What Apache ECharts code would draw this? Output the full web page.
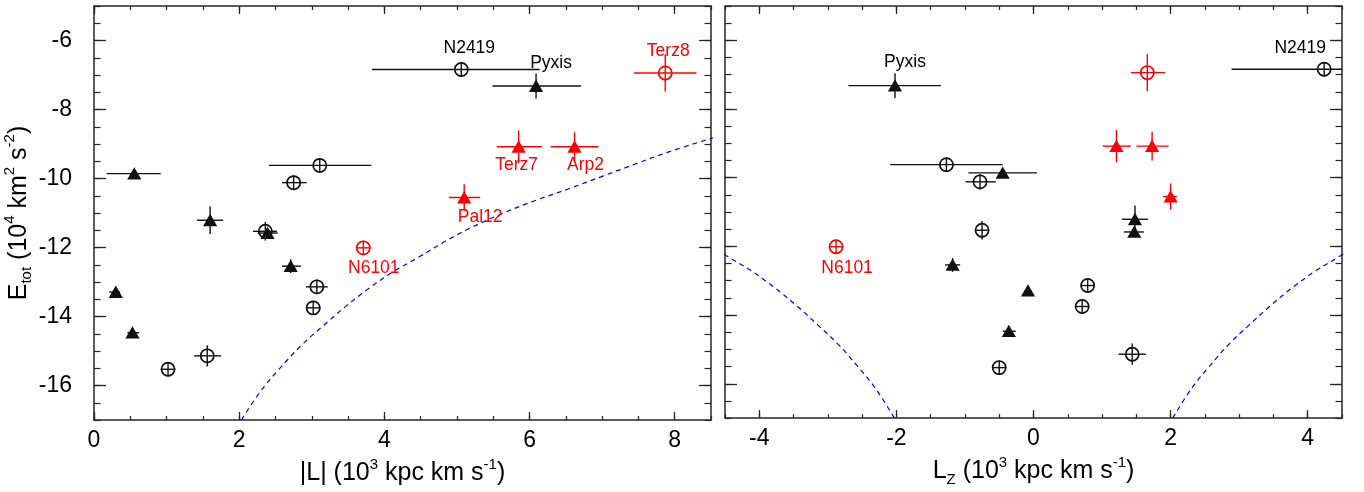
<!DOCTYPE html>
<html><head><meta charset="utf-8">
<script src="https://cdn.jsdelivr.net/npm/echarts@6/dist/echarts.min.js"></script>
<style>html,body{margin:0;padding:0;background:#fff}#c{width:1364px;height:492px}</style>
</head><body><div id="c"></div><script>
// ---------------- data ----------------
const clusterNames = ['', '', '', '', '', '', '', '', '', '', '', '', '', 'N2419', 'Pyxis', 'Terz8', 'Terz7', 'Arp2', 'Pal12', 'N6101'];
const markerKind   = ['t','t','c','t','t','c','c','t','t','c','c','c','c','c','t','c','t','t','t','c']; // t = triangle group, c = circle group
const accreted     = [0,0,0,0,0,0,0,0,0,0,0,0,0,0,0,1,1,1,1,1];
const lTot   = [0.555, 1.60, 2.36, 2.39, 2.71, 3.07, 3.02, 0.30, 0.53, 1.02, 1.56, 3.11, 2.75, 5.06, 6.09, 7.87, 5.85, 6.62, 5.10, 3.71];
const lTotLo = [0.175, 1.42, 2.19, 2.26, 2.59, 2.92, 2.92, 0.21, 0.46, 0.92, 1.38, 2.41, 2.59, 3.83, 5.49, 7.44, 5.55, 6.29, 4.89, 3.61];
const lTotHi = [0.92,  1.78, 2.52, 2.53, 2.85, 3.22, 3.12, 0.36, 0.62, 1.12, 1.75, 3.82, 2.93, 6.14, 6.71, 8.30, 6.17, 6.95, 5.32, 3.81];
const eTot   = [-9.86, -11.21, -11.53, -11.58, -12.54, -13.14, -13.75, -13.29, -14.47, -15.53, -15.14, -9.62, -10.12, -6.84, -7.32, -6.94, -9.08, -9.08, -10.55, -12.01];
const eErr   = [0.10, 0.40, 0.27, 0.12, 0.20, 0.21, 0.21, 0.10, 0.10, 0.21, 0.31, 0.21, 0.22, 0.21, 0.36, 0.54, 0.47, 0.42, 0.38, 0.21];
const lz     = [-0.45, 1.48, -0.75, 1.47, -1.18, 0.79, 0.71, -0.08, -0.36, -0.50, 1.44, -1.27, -0.78, 4.24, -2.02, 1.66, 1.21, 1.73, 2.00, -2.88];
const lzLo   = [-0.95, 1.29, -0.85, 1.32, -1.29, 0.69, 0.61, -0.13, -0.45, -0.60, 1.24, -2.09, -0.99, 2.89, -2.70, 1.42, 1.01, 1.50, 1.89, -2.98];
const lzHi   = [0.05,  1.67, -0.65, 1.61, -1.07, 0.89, 0.81, -0.03, -0.26, -0.40, 1.64, -0.45, -0.55, 5.59, -1.35, 1.92, 1.42, 1.97, 2.09, -2.78];
// dashed reference curve: |L| vs E
const curveL = [2.03, 2.29, 2.54, 2.86, 3.14, 3.46, 3.79, 4.11, 4.48, 4.84, 5.17, 5.63, 6.09, 6.55, 7.01, 7.47, 7.93, 8.53];
const curveE = [-17.0, -16.18, -15.55, -14.83, -14.30, -13.72, -13.18, -12.72, -12.27, -11.82, -11.45, -11.01, -10.63, -10.29, -9.93, -9.57, -9.22, -8.82];
// axis ticks
const lTicks  = [0, 2, 4, 6, 8];
const lzTicks = [-4, -2, 0, 2, 4];
const eTicks  = [-16, -14, -12, -10, -8, -6];

// ---------------- styles ----------------
const FONT = '"Liberation Sans", Arial, Helvetica, sans-serif';
const AXIS = '#262626';
const labelsLeft  = {N2419:[8,-21], Pyxis:[15,-23], Terz8:[3,-22], Terz7:[-2,18], Arp2:[11,18.5], Pal12:[16,19.5], N6101:[10.5,20.5]};
const labelsRight = {Pyxis:[10,-24], N2419:[-24,-21], N6101:[11,21]};

function majorAxis(dim, grid, min, max, ticks, pos, showLabel, len, extra) {
  return Object.assign({
    type: 'value', gridIndex: grid, position: pos, min: min, max: max,
    axisLine: {show: true, onZero: false, lineStyle: {color: AXIS, width: 1.5}},
    axisTick: {show: true, inside: true, length: len, customValues: ticks, lineStyle: {color: AXIS, width: 1.3}},
    axisLabel: {show: showLabel, customValues: ticks, margin: dim === 'x' ? 9 : 22, fontSize: 23, fontFamily: FONT, color: '#000'},
    splitLine: {show: false}
  }, extra || {});
}
function minorAxis(grid, min, max, pos, len) {
  return {
    type: 'value', gridIndex: grid, position: pos, min: min, max: max, interval: 0.5,
    axisLine: {show: false, onZero: false},
    axisTick: {show: true, inside: true, length: len, lineStyle: {color: AXIS, width: 1.2}},
    axisLabel: {show: false}, splitLine: {show: false}
  };
}
const richBase = {
  n: {fontSize: 25, fontFamily: FONT, color: '#000', lineHeight: 32},
  p: {fontSize: 15, fontFamily: FONT, color: '#000', verticalAlign: 'top'},
  s: {fontSize: 15, fontFamily: FONT, color: '#000', verticalAlign: 'bottom'}
};

const xAxes = [
  majorAxis('x', 0, 0, 8.5, lTicks, 'bottom', true, 8, {
    name: '{n||L| (10}{p|3}{n| kpc km s}{p|-1}{n|)}', nameLocation: 'middle', nameGap: 29,
    nameTextStyle: {rich: richBase}}),
  minorAxis(0, 0, 8.5, 'bottom', 4),
  majorAxis('x', 0, 0, 8.5, lTicks, 'top', false, 8),
  minorAxis(0, 0, 8.5, 'top', 4),
  majorAxis('x', 1, -4.5, 4.5, lzTicks, 'bottom', true, 8, {
    name: '{n|L}{s|Z}{n| (10}{p|3}{n| kpc km s}{p|-1}{n|)}', nameLocation: 'middle', nameGap: 29,
    nameTextStyle: {rich: richBase}}),
  minorAxis(1, -4.5, 4.5, 'bottom', 4),
  majorAxis('x', 1, -4.5, 4.5, lzTicks, 'top', false, 8),
  minorAxis(1, -4.5, 4.5, 'top', 4)
];
const yAxes = [
  majorAxis('y', 0, -17, -5, eTicks, 'left', true, 12, {
    name: '{n|E}{s|tot}{n| (10}{p|4}{n| km}{p|2}{n| s}{p|-2}{n|)}', nameLocation: 'middle', nameGap: 56, nameRotate: 90,
    nameTextStyle: {rich: richBase}}),
  minorAxis(0, -17, -5, 'left', 6.5),
  majorAxis('y', 0, -17, -5, eTicks, 'right', false, 12),
  minorAxis(0, -17, -5, 'right', 6.5),
  majorAxis('y', 1, -17, -5, eTicks, 'left', false, 12),
  minorAxis(1, -17, -5, 'left', 6.5),
  majorAxis('y', 1, -17, -5, eTicks, 'right', false, 12),
  minorAxis(1, -17, -5, 'right', 6.5)
];

function pointRenderer(labelMap) {
  return function (params, api) {
    const x = api.value(0), xlo = api.value(1), xhi = api.value(2);
    const y = api.value(3), ylo = api.value(4), yhi = api.value(5), i = api.value(6);
    const p = api.coord([x, y]);
    const a = api.coord([xlo, y]), b = api.coord([xhi, y]);
    const c = api.coord([x, ylo]), d = api.coord([x, yhi]);
    const red = accreted[i] === 1;
    const col = red ? '#ff0000' : '#111111';
    const lw = 1.4;
    const ch = [
      {type: 'line', shape: {x1: a[0], y1: a[1], x2: b[0], y2: b[1]}, style: {stroke: col, lineWidth: lw}},
      {type: 'line', shape: {x1: c[0], y1: c[1], x2: d[0], y2: d[1]}, style: {stroke: col, lineWidth: lw}}
    ];
    if (markerKind[i] === 'c') {
      ch.push({type: 'circle', shape: {cx: p[0], cy: p[1], r: 6.6}, style: {fill: 'none', stroke: col, lineWidth: 1.7}});
    } else {
      ch.push({type: 'polygon', shape: {points: [[p[0], p[1] - 6.5], [p[0] + 7.1, p[1] + 5.9], [p[0] - 7.1, p[1] + 5.9]]}, style: {fill: col}});
    }
    const nm = clusterNames[i];
    if (nm && labelMap[nm]) {
      const off = labelMap[nm];
      ch.push({type: 'text', x: p[0] + off[0], y: p[1] + off[1],
        style: {text: nm, fill: red ? '#ff0000' : '#000', fontSize: 17.5, fontFamily: FONT, align: 'center', verticalAlign: 'middle'}});
    }
    return {type: 'group', children: ch};
  };
}

const leftData = lTot.map((v, i) => [v, lTotLo[i], lTotHi[i], eTot[i], eTot[i] - eErr[i], eTot[i] + eErr[i], i]);
const rightData = lz.map((v, i) => [v, lzLo[i], lzHi[i], eTot[i], eTot[i] - eErr[i], eTot[i] + eErr[i], i]);
const curveStyle = {color: '#0000ff', width: 1.2, type: [5, 4]};

const option = {
  backgroundColor: '#fff',
  animation: false,
  grid: [
    {left: 94, right: 653, top: 6, bottom: 72},
    {left: 725, right: 22, top: 6, bottom: 72}
  ],
  xAxis: xAxes,
  yAxis: yAxes,
  series: [
    {type: 'line', xAxisIndex: 0, yAxisIndex: 0, data: curveL.map((l, i) => [l, curveE[i]]), showSymbol: false, smooth: 0.4, lineStyle: curveStyle, silent: true, clip: true, z: 1},
    {type: 'line', xAxisIndex: 4, yAxisIndex: 4, data: curveL.map((l, i) => [-l, curveE[i]]), showSymbol: false, smooth: 0.4, lineStyle: curveStyle, silent: true, clip: true, z: 1},
    {type: 'line', xAxisIndex: 4, yAxisIndex: 4, data: curveL.map((l, i) => [l, curveE[i]]), showSymbol: false, smooth: 0.4, lineStyle: curveStyle, silent: true, clip: true, z: 1},
    {type: 'custom', xAxisIndex: 0, yAxisIndex: 0, data: leftData, renderItem: pointRenderer(labelsLeft), encode: {x: 0, y: 3}, clip: true, silent: true, z: 3},
    {type: 'custom', xAxisIndex: 4, yAxisIndex: 4, data: rightData, renderItem: pointRenderer(labelsRight), encode: {x: 0, y: 3}, clip: true, silent: true, z: 3}
  ]
};
const chart = echarts.init(document.getElementById('c'));
chart.setOption(option);
</script></body></html>
